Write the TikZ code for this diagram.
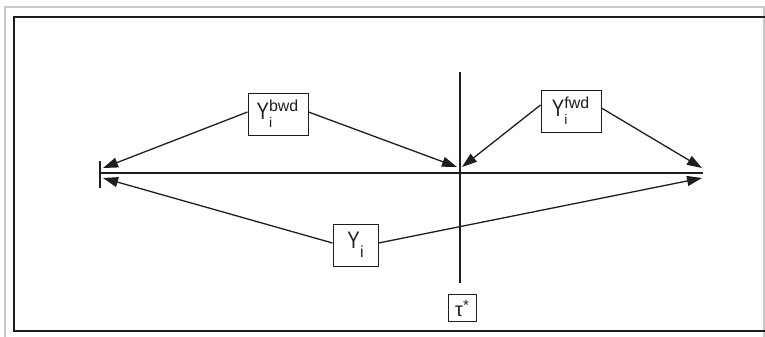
\documentclass[tikz,border=0pt]{standalone}
\usepackage{fontspec}
\setmainfont{Liberation Sans}
\usetikzlibrary{arrows.meta}

\definecolor{ink}{HTML}{1E1E1E}
\definecolor{framegray}{HTML}{C8C8C8}

% Y with a subscript i and a superscript
\newcommand{\symY}[2]{%
  \scalebox{0.78}[1]{\fontsize{24}{24}\selectfont Y}%
  \rlap{\raisebox{-#2}{\fontsize{14}{14}\selectfont i}}%
  \raisebox{8bp}{\fontsize{16}{16}\selectfont #1}}

\tikzset{
  labelbox/.style={draw=ink, line width=1bp, inner sep=0pt, fill=white, text=ink},
  axisline/.style={draw=ink, line width=1.4bp},
  arr/.style={draw=ink, line width=1.3bp, -{Triangle[length=15bp,width=10bp]}},
}

\begin{document}
\begin{tikzpicture}[x=1bp, y=-1bp]
  \useasboundingbox (0,0) rectangle (765,336);
  \clip (0,0) rectangle (765,336);

  % frames
  \draw[framegray, line width=1.2bp] (5,7) rectangle (764,345);
  \draw[ink, line width=2bp] (14,17) rectangle (780,331);

  % time axis, left tick and break line
  \coordinate (axL) at (100,173);
  \coordinate (axR) at (703,173);
  \coordinate (tickT) at (100,161);
  \coordinate (tickB) at (100,188);
  \coordinate (brkT) at (460,72);
  \coordinate (brkB) at (460,283);
  \draw[axisline] (axL) -- (axR);
  \draw[axisline] (tickT) -- (tickB);
  \draw[axisline] (brkT) -- (brkB);

  % label boxes
  \node[labelbox, minimum width=60bp, minimum height=42bp] (bwd) at (278,114)
    {\kern-1bp\symY{bwd}{8bp}};
  \node[labelbox, minimum width=60bp, minimum height=42bp] (fwd) at (571,111)
    {\kern-1bp\symY{fwd}{8bp}};
  \node[labelbox, minimum width=45bp, minimum height=42bp] (yi) at (355.5,245)
    {\scalebox{0.78}[1]{\fontsize{24}{24}\selectfont Y}\kern0.5bp\raisebox{-9bp}{\fontsize{16}{16}\selectfont i}};
  \node[labelbox, minimum width=28bp, minimum height=27bp] (tau) at (462,308)
    {\fontsize{20}{20}\selectfont τ\kern0.3bp\raisebox{6bp}{\fontsize{15}{15}\selectfont *}};

  % arrow tips on the axis
  \coordinate (tipL1) at (103,168);
  \coordinate (tipM1) at (457,167);
  \coordinate (tipM2) at (462,167);
  \coordinate (tipR1) at (702,168);
  \coordinate (tipL2) at (103,178);
  \coordinate (tipR2) at (702,178);

  % connectors
  \draw[arr] ([yshift=2bp]bwd.west) -- (tipL1);
  \draw[arr] ([yshift=2bp]bwd.east) -- (tipM1);
  \draw[arr] ([yshift=6bp]fwd.west) -- (tipM2);
  \draw[arr] ([yshift=3bp]fwd.east) -- (tipR1);
  \draw[arr] ([yshift=2bp]yi.west) -- (tipL2);
  \draw[arr] ([yshift=2bp]yi.east) -- (tipR2);
\end{tikzpicture}
\end{document}
